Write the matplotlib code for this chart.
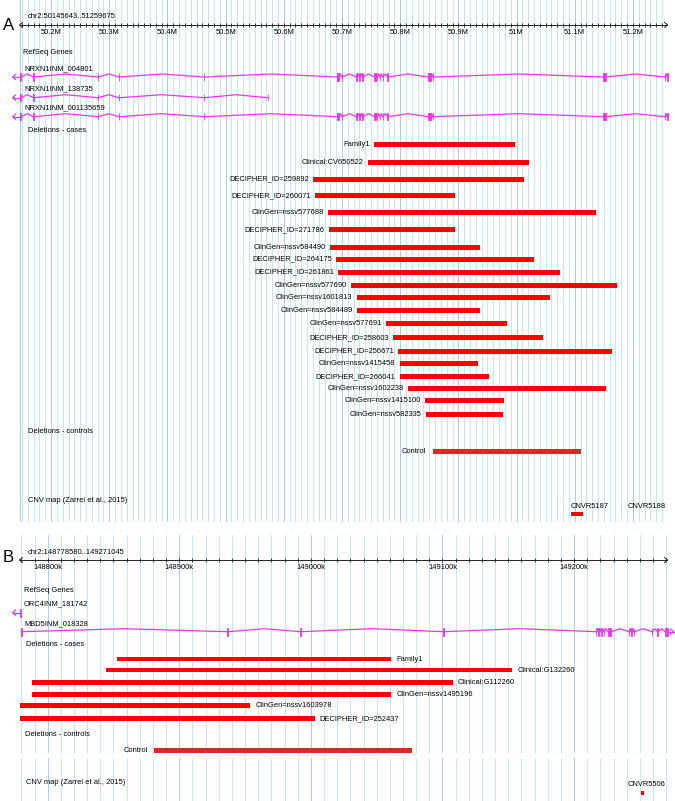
import matplotlib
matplotlib.use("Agg")
import matplotlib.pyplot as plt
from matplotlib.patches import Rectangle
import numpy as np

plt.rcParams['font.family'] = ['Liberation Sans', 'DejaVu Sans']

# ---------------- data (genomic positions in kb) ----------------
a_region = (50145.643, 51259.675)
a_chrom_label = "chr2:50145643..51259675"
a_tick_values = [50200, 50300, 50400, 50500, 50600, 50700, 50800, 50900, 51000, 51100, 51200]
a_tick_labels = ["50.2M", "50.3M", "50.4M", "50.5M", "50.6M", "50.7M",
                 "50.8M", "50.9M", "51M", "51.1M", "51.2M"]

a_tx_names = ["NRXN1INM_004801", "NRXN1INM_138735", "NRXN1INM_001135659"]
nrxn1_long = [(50145.7, 50148.6), (50169.2, 50169.8), (50280.6, 50281.2), (50316.7, 50317.3),
              (50463.0, 50463.6), (50692.0, 50694.0), (50700.0, 50700.6), (50724.7, 50725.3),
              (50729.8, 50730.4), (50735.0, 50735.6), (50755.6, 50758.8), (50760.0, 50760.6),
              (50764.5, 50765.1), (50770.0, 50770.6), (50778.0, 50778.6), (50847.8, 50850.5),
              (50852.0, 50852.6), (50856.0, 50856.6), (51149.2, 51153.2), (51255.0, 51255.6),
              (51259.0, 51259.6)]
nrxn1_short = [(50145.7, 50148.6), (50169.2, 50169.8), (50280.6, 50281.2), (50316.7, 50317.3),
               (50463.0, 50463.6), (50572.0, 50572.6)]

a_case_names = ["Family1", "Clinical:CV650522", "DECIPHER_ID=259892", "DECIPHER_ID=260071",
                "ClinGen=nssv577688", "DECIPHER_ID=271786", "ClinGen=nssv584490",
                "DECIPHER_ID=264175", "DECIPHER_ID=261861", "ClinGen=nssv577690",
                "ClinGen=nssv1601813", "ClinGen=nssv584489", "ClinGen=nssv577691",
                "DECIPHER_ID=258603", "DECIPHER_ID=256671", "ClinGen=nssv1415458",
                "DECIPHER_ID=266041", "ClinGen=nssv1602238", "ClinGen=nssv1415100",
                "ClinGen=nssv582335"]
a_case_starts = [50755, 50744, 50650, 50654, 50676, 50677, 50680, 50690, 50693, 50716,
                 50725, 50725, 50775, 50787, 50796, 50799, 50799, 50813, 50843, 50844]
a_case_ends = [50998, 51021, 51012, 50894, 51137, 50894, 50937, 51030, 51075, 51172,
               51057, 50937, 50983, 51045, 51164, 50934, 50953, 51153, 50978, 50977]
a_control_names = ["Control"]
a_control_starts = [50857]
a_control_ends = [51111]
a_cnv_names = ["CNVR5187", "CNVR5188"]
a_cnv_starts = [51093, 51225.5]
a_cnv_ends = [51114, 51226.5]

b_region = (148778.580, 149271.045)
b_chrom_label = "chr2:148778580..149271045"
b_tick_values = [148800, 148900, 149000, 149100, 149200]
b_tick_labels = ["148800k", "148900k", "149000k", "149100k", "149200k"]
orc4_exons = [(148778.6, 148779.6)]
mbd5_exons = [(148779.6, 148780.1), (148936.6, 148937.1), (148992.0, 148992.5),
              (149100.5, 149101.0), (149216.5, 149217.0), (149218.5, 149219.0),
              (149220.4, 149220.9), (149222.4, 149222.9), (149225.5, 149228.3),
              (149241.5, 149242.0), (149243.3, 149243.8), (149245.3, 149245.8),
              (149259.0, 149259.5), (149263.3, 149263.8), (149269.1, 149269.6),
              (149270.5, 149271.0)]
b_case_names = ["Family1", "Clinical:G132260", "Clinical:G112260", "ClinGen=nssv1495196",
                "ClinGen=nssv1603978", "DECIPHER_ID=252437"]
b_case_starts = [148853, 148844, 148788, 148788, 148778.6, 148778.6]
b_case_ends = [149061, 149153, 149108, 149061, 148954, 149003]
b_control_names = ["Control"]
b_control_starts = [148880.5]
b_control_ends = [149077]
b_cnv_names = ["CNVR5506"]
b_cnv_starts = [149250.8]
b_cnv_ends = [149253.0]

# ---------------- layout (pixels) ----------------
W, H = 675, 801
LEFT, RIGHT = 19.5, 667.6
a_case_rows = [144.7, 162, 179, 195.7, 212.7, 229.7, 247.3, 259, 272, 285.3, 297.3,
               310.7, 323.7, 337.3, 351, 363.7, 376.3, 388.7, 400.7, 414.3]
b_case_rows = [659, 670, 682.3, 694.3, 705.7, 718.3]

FS = 5.4
GENE = '#ee33ee'
RED = '#ff0000'
CTRL = '#d42a2a'
MINOR = '#bfeaf2'
MAJOR = '#a3d0ee'

fig = plt.figure(figsize=(W / 100, H / 100), dpi=100)


def ftext(x, y, s, **kw):
    kw.setdefault('fontsize', FS)
    fig.text(x / W, 1 - y / H, s, va='center', ha=kw.pop('ha', 'left'), **kw)


def panel(top, bottom, region):
    ax = fig.add_axes([LEFT / W, 1 - bottom / H, (RIGHT - LEFT) / W, (bottom - top) / H])
    ax.set_xlim(*region)
    ax.set_ylim(bottom, top)
    ax.axis('off')
    return ax


def kb_per_px(region):
    return (region[1] - region[0]) / (RIGHT - LEFT)


def draw_grid(ax, region):
    s, e = region
    for v in np.arange(np.ceil(s / 10) * 10, e, 10):
        major = int(round(v)) % 100 == 0
        ax.axvline(v, color=MAJOR if major else MINOR, lw=0.45, zorder=1, antialiased=False)
    ax.axvline(s, color=MAJOR, lw=0.45, zorder=1, antialiased=False)
    ax.axvline(e, color=MAJOR, lw=0.45, zorder=1, antialiased=False)


def draw_ruler(ax, region, y, ticks, labels):
    s, e = region
    k = kb_per_px(region)
    ax.plot([s, e], [y, y], color='#222222', lw=0.7, zorder=4)
    minor = np.arange(np.ceil(s / 10) * 10, e, 10)
    ax.vlines(minor, y - 2, y + 2, color='#222222', lw=0.6, zorder=4)
    ax.plot([s + 3 * k, s, s + 3 * k], [y - 2.5, y, y + 2.5], color='#222222', lw=0.7,
            zorder=4, clip_on=False)
    ax.plot([e - 3 * k, e, e - 3 * k], [y - 2.5, y, y + 2.5], color='#222222', lw=0.7,
            zorder=4, clip_on=False)
    for v, lab in zip(ticks, labels):
        ax.text(v, y + 7.7, lab, ha='center', va='center', fontsize=FS, zorder=5)


def draw_gene(ax, exons, y, region, arrow=None):
    k = kb_per_px(region)
    for (s0, e0), (s1, e1) in zip(exons[:-1], exons[1:]):
        ax.plot([e0, (e0 + s1) / 2, s1], [y, y - 3, y], color=GENE, lw=0.9, zorder=3)
    for s, e in exons:
        ax.add_patch(Rectangle((s, y - 3.8), e - s, 7.6, facecolor=GENE, edgecolor=GENE,
                               lw=0.6, zorder=3, clip_on=False))
    if arrow == 'left':
        x0 = exons[0][0]
        ax.plot([x0, x0 - 7 * k], [y, y], color=GENE, lw=0.9, clip_on=False, zorder=3)
        ax.plot([x0 - 4 * k, x0 - 7 * k, x0 - 4 * k], [y - 2.5, y, y + 2.5], color=GENE,
                lw=0.9, clip_on=False, zorder=3)
    if arrow == 'right':
        x1 = exons[-1][1]
        ax.plot([x1, x1 + 6 * k], [y, y], color=GENE, lw=0.9, clip_on=False, zorder=3)
        ax.plot([x1 + 3 * k, x1 + 6 * k, x1 + 3 * k], [y - 2.5, y, y + 2.5], color=GENE,
                lw=0.9, clip_on=False, zorder=3)


def draw_bars(ax, names, starts, ends, rows, color, height, side, gap):
    widths = [e - s for s, e in zip(starts, ends)]
    ax.barh(rows, widths, left=starts, height=height, color=color, zorder=3)
    for n, s, e, y in zip(names, starts, ends, rows):
        if side == 'left':
            ax.annotate(n, (s, y), xytext=(-gap, 0), textcoords='offset pixels',
                        ha='right', va='center', fontsize=FS, zorder=5)
        else:
            ax.annotate(n, (e, y), xytext=(gap, 0), textcoords='offset pixels',
                        ha='left', va='center', fontsize=FS, zorder=5)


def draw_cnv(ax, names, starts, ends, bar_y, label_y, region):
    widths = [max(e - s, 0.6) for s, e in zip(starts, ends)]
    ax.barh([bar_y] * len(starts), widths, left=starts, height=4, color=RED, zorder=3)
    k = kb_per_px(region)
    for n, s in zip(names, starts):
        if region[1] - s < 45 * k:
            ax.text(region[1] - 2 * k, label_y, n, ha='right', va='center', fontsize=FS)
        else:
            ax.text(s, label_y, n, ha='left', va='center', fontsize=FS)


# ---------------- panel A ----------------
axA = panel(0, 522, a_region)
draw_grid(axA, a_region)
draw_ruler(axA, a_region, 25, a_tick_values, a_tick_labels)
draw_gene(axA, nrxn1_long, 77, a_region, arrow='left')
draw_gene(axA, nrxn1_short, 97.7, a_region, arrow='left')
draw_gene(axA, nrxn1_long, 116.7, a_region, arrow='left')
draw_bars(axA, a_case_names, a_case_starts, a_case_ends, a_case_rows, RED, 5, 'left', 4)
draw_bars(axA, a_control_names, a_control_starts, a_control_ends, [451.7], CTRL, 5, 'left', 7)
draw_cnv(axA, a_cnv_names, a_cnv_starts, a_cnv_ends, 513.7, 506, a_region)

ftext(3, 26, "A", fontsize=12)
ftext(28, 17, a_chrom_label)
ftext(23, 52, "RefSeq Genes")
for name, y in zip(a_tx_names, [69, 89, 108]):
    ftext(24, y, name)
ftext(28, 130, "Deletions - cases")
ftext(28, 431.7, "Deletions - controls")
ftext(28, 500, "CNV map (Zarrei et al., 2015)")

# ---------------- panel B ----------------
axB = panel(535, 801, b_region)
draw_grid(axB, b_region)
axB.axhspan(753, 757, color='white', zorder=2)
draw_ruler(axB, b_region, 560, b_tick_values, b_tick_labels)
draw_gene(axB, orc4_exons, 612.7, b_region, arrow='left')
draw_gene(axB, mbd5_exons, 631.7, b_region, arrow='right')
draw_bars(axB, b_case_names, b_case_starts, b_case_ends, b_case_rows, RED, 4.5, 'right', 5)
draw_bars(axB, b_control_names, b_control_starts, b_control_ends, [750.3], CTRL, 5, 'left', 6)
draw_cnv(axB, b_cnv_names, b_cnv_starts, b_cnv_ends, 793.3, 784.7, b_region)

ftext(3, 558, "B", fontsize=12)
ftext(28, 553, b_chrom_label)
ftext(24, 591, "RefSeq Genes")
ftext(24, 604, "ORC4INM_181742")
ftext(24, 624, "MBD5INM_018328")
ftext(26, 645, "Deletions - cases")
ftext(25, 734.3, "Deletions - controls")
ftext(26, 782, "CNV map (Zarrei et al., 2015)")

fig.savefig("out.png", dpi=100, facecolor='white')
